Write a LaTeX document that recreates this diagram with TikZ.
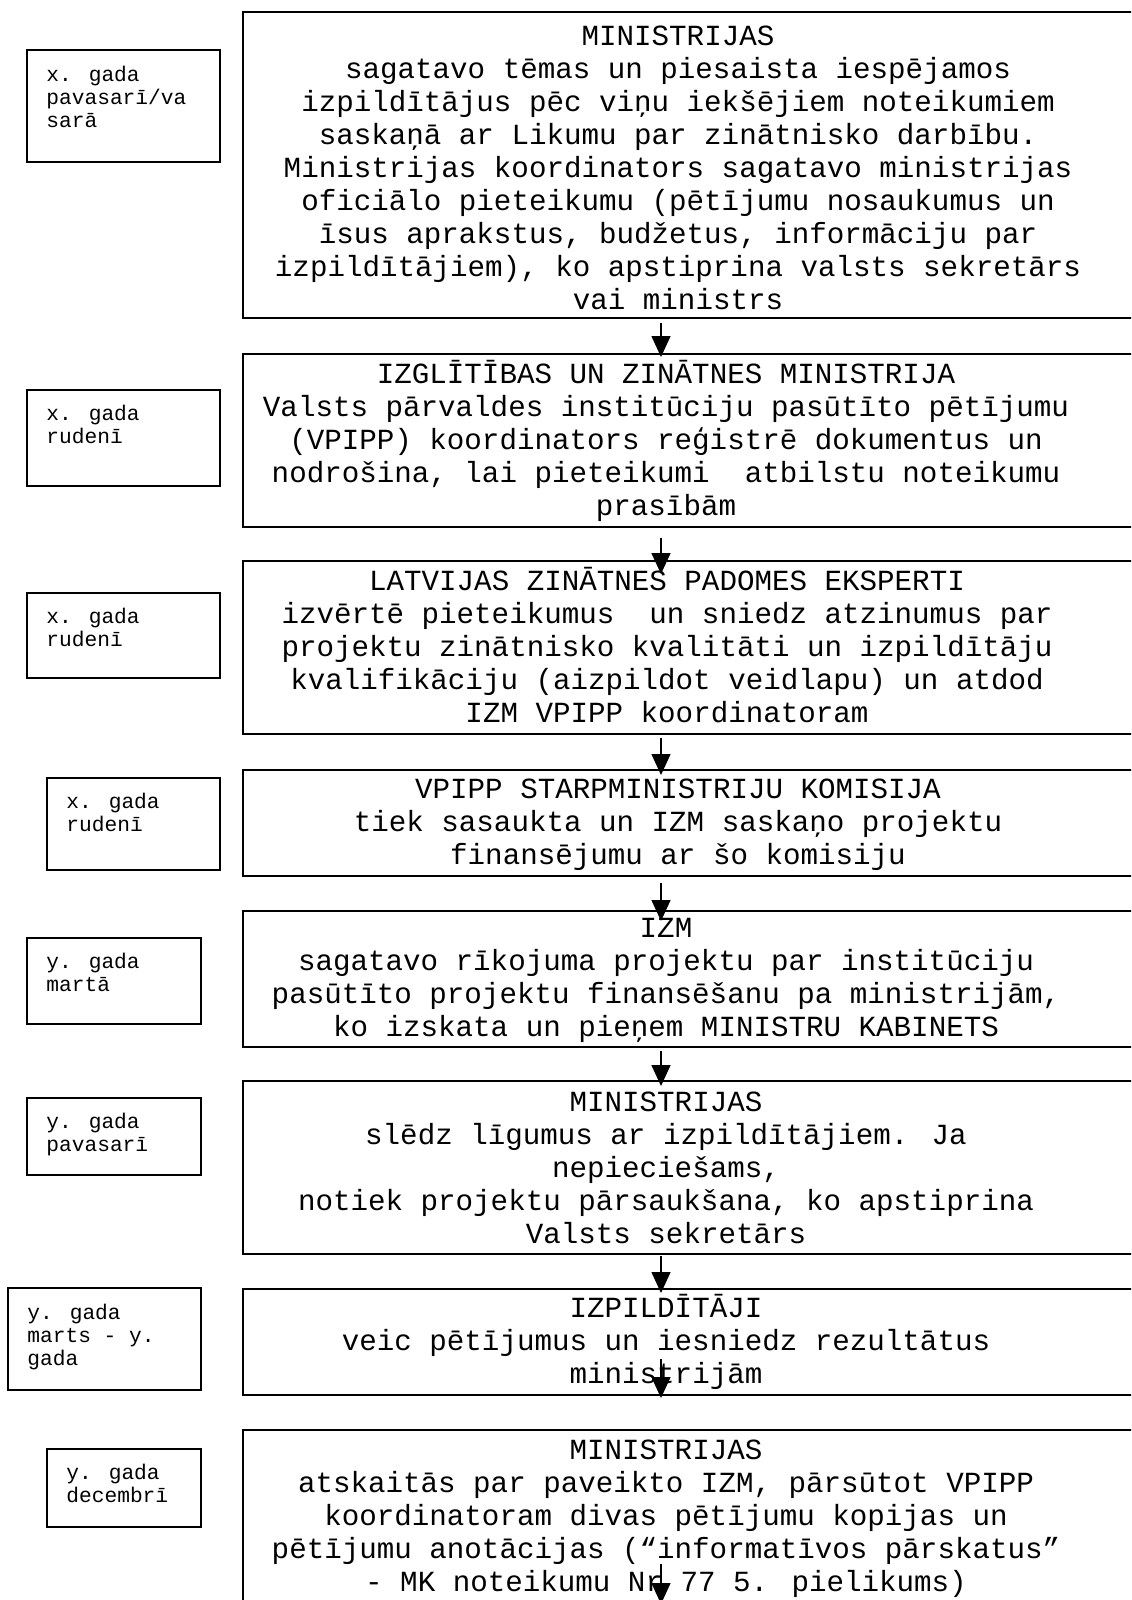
\documentclass[tikz,border=0pt]{standalone}
\usepackage{fontspec}
\setmainfont{Liberation Mono}
\usetikzlibrary{arrows.meta,calc,fit}

\tikzset{
	stepbox/.style={draw, line width=1pt, inner sep=0pt},
	datebox/.style={draw, line width=1pt, inner sep=0pt},
	steptext/.style={anchor=base, align=center, inner sep=0pt, font=\fontsize{14.6}{16.5}\selectfont},
	datetext/.style={anchor=base west, align=left, inner sep=0pt, font=\fontsize{10.6}{11.5}\selectfont},
	flow/.style={-{Triangle[width=9.5pt,length=10.5pt]}, line width=0.7pt}
}

\begin{document}
\begin{tikzpicture}[x=0.5pt,y=-0.5pt]
	\useasboundingbox (0,0) rectangle (1131,1600);
	\clip (0,0) rectangle (1131,1600);
	\coordinate (ax) at (661,0);
	% steps
	\node[stepbox, fit={(243,12.5) (1140,318)}] (b1) {};
	\node[stepbox, fit={(243,354) (1140,527)}] (b2) {};
	\node[stepbox, fit={(243,561) (1140,734)}] (b3) {};
	\node[stepbox, fit={(243,770) (1140,876)}] (b4) {};
	\node[stepbox, fit={(243,911) (1140,1047)}] (b5) {};
	\node[stepbox, fit={(243,1081) (1140,1254)}] (b6) {};
	\node[stepbox, fit={(243,1289) (1140,1395)}] (b7) {};
	\node[stepbox, fit={(243,1430) (1140,1650)}] (b8) {};
	% texts, base = last line
	\node[steptext] (t1) at (678,309) {MINISTRIJAS\\sagatavo tēmas un piesaista iespējamos\\izpildītājus pēc viņu iekšējiem noteikumiem\\saskaņā ar Likumu par zinātnisko darbību.\\Ministrijas koordinators sagatavo ministrijas\\oficiālo pieteikumu (pētījumu nosaukumus un\\īsus aprakstus, budžetus, informāciju par\\izpildītājiem), ko apstiprina valsts sekretārs\\vai ministrs};
	\node[steptext] (t2) at (666,515) {IZGLĪTĪBAS UN ZINĀTNES MINISTRIJA\\Valsts pārvaldes institūciju pasūtīto pētījumu\\(VPIPP) koordinators reģistrē dokumentus un\\nodrošina, lai pieteikumi\ \ atbilstu noteikumu\\prasībām};
	\node[steptext] (t3) at (667,722) {LATVIJAS ZINĀTNES PADOMES EKSPERTI\\izvērtē pieteikumus\ \ un sniedz atzinumus par\\projektu zinātnisko kvalitāti un izpildītāju\\kvalifikāciju (aizpildot veidlapu) un atdod\\IZM VPIPP koordinatoram};
	\node[steptext] (t4) at (678,864) {VPIPP STARPMINISTRIJU KOMISIJA\\tiek sasaukta un IZM saskaņo projektu\\finansējumu ar šo komisiju};
	\node[steptext] (t5) at (666,1036) {IZM\\sagatavo rīkojuma projektu par institūciju\\pasūtīto projektu finansēšanu pa ministrijām,\\ko izskata un pieņem MINISTRU KABINETS};
	\node[steptext] (t6) at (666,1243) {MINISTRIJAS\\slēdz līgumus ar izpildītājiem. Ja\\nepieciešams,\\notiek projektu pārsaukšana, ko apstiprina\\Valsts sekretārs};
	\node[steptext] (t7) at (666,1383) {IZPILDĪTĀJI\\veic pētījumus un iesniedz rezultātus\\ministrijām};
	\node[steptext] (t8) at (666,1591) {MINISTRIJAS\\atskaitās par paveikto IZM, pārsūtot VPIPP\\koordinatoram divas pētījumu kopijas un\\pētījumu anotācijas (“informatīvos pārskatus”\\- MK noteikumu Nr 77 5. pielikums)};
	% dates
	\node[datebox, fit={(27,50) (220,162)}] (d1) {};
	\node[datebox, fit={(27,390) (220,486)}] (d2) {};
	\node[datebox, fit={(27,593) (220,678)}] (d3) {};
	\node[datebox, fit={(47,778) (220,870)}] (d4) {};
	\node[datebox, fit={(27,938) (201,1024)}] (d5) {};
	\node[datebox, fit={(27,1098) (201,1175)}] (d6) {};
	\node[datebox, fit={(8,1288) (201,1390)}] (d7) {};
	\node[datebox, fit={(47,1449) (201,1527)}] (d8) {};
	\node[datetext] (d1t) at ($(d1.north west)+(20,78)$) {x. gada\\pavasarī/va\\sarā};
	\node[datetext] (d2t) at ($(d2.north west)+(20,54)$) {x. gada\\rudenī};
	\node[datetext] (d3t) at ($(d3.north west)+(20,54)$) {x. gada\\rudenī};
	\node[datetext] (d4t) at ($(d4.north west)+(20,54)$) {x. gada\\rudenī};
	\node[datetext] (d5t) at ($(d5.north west)+(20,54)$) {y. gada\\martā};
	\node[datetext] (d6t) at ($(d6.north west)+(20,54)$) {y. gada\\pavasarī};
	\node[datetext] (d7t) at ($(d7.north west)+(20,78)$) {y. gada\\marts - y.\\gada};
	\node[datetext] (d8t) at ($(d8.north west)+(20,54)$) {y. gada\\decembrī};
	% arrows
	\path[flow]
	($(b1.south -| ax)+(0,4)$) edge ($(b2.north -| ax)+(0,4)$)
	($(b2.south -| ax)+(0,10)$) edge ($(b3.north -| ax)+(0,14)$)
	($(b3.south -| ax)+(0,3)$) edge ($(b4.north -| ax)+(0,6)$)
	($(b4.south -| ax)+(0,6)$) edge ($(b5.north -| ax)+(0,11)$)
	($(b5.south -| ax)+(0,3)$) edge ($(b6.north -| ax)+(0,6)$)
	($(b6.south -| ax)+(0,1)$) edge ($(b7.north -| ax)+(0,5)$)
	($(b7.south -| ax)+(0,-37)$) edge ($(b7.south -| ax)+(0,2)$)
	($(b8.north -| ax)+(0,135)$) edge ($(b8.north -| ax)+(0,175)$);
\end{tikzpicture}
\end{document}
